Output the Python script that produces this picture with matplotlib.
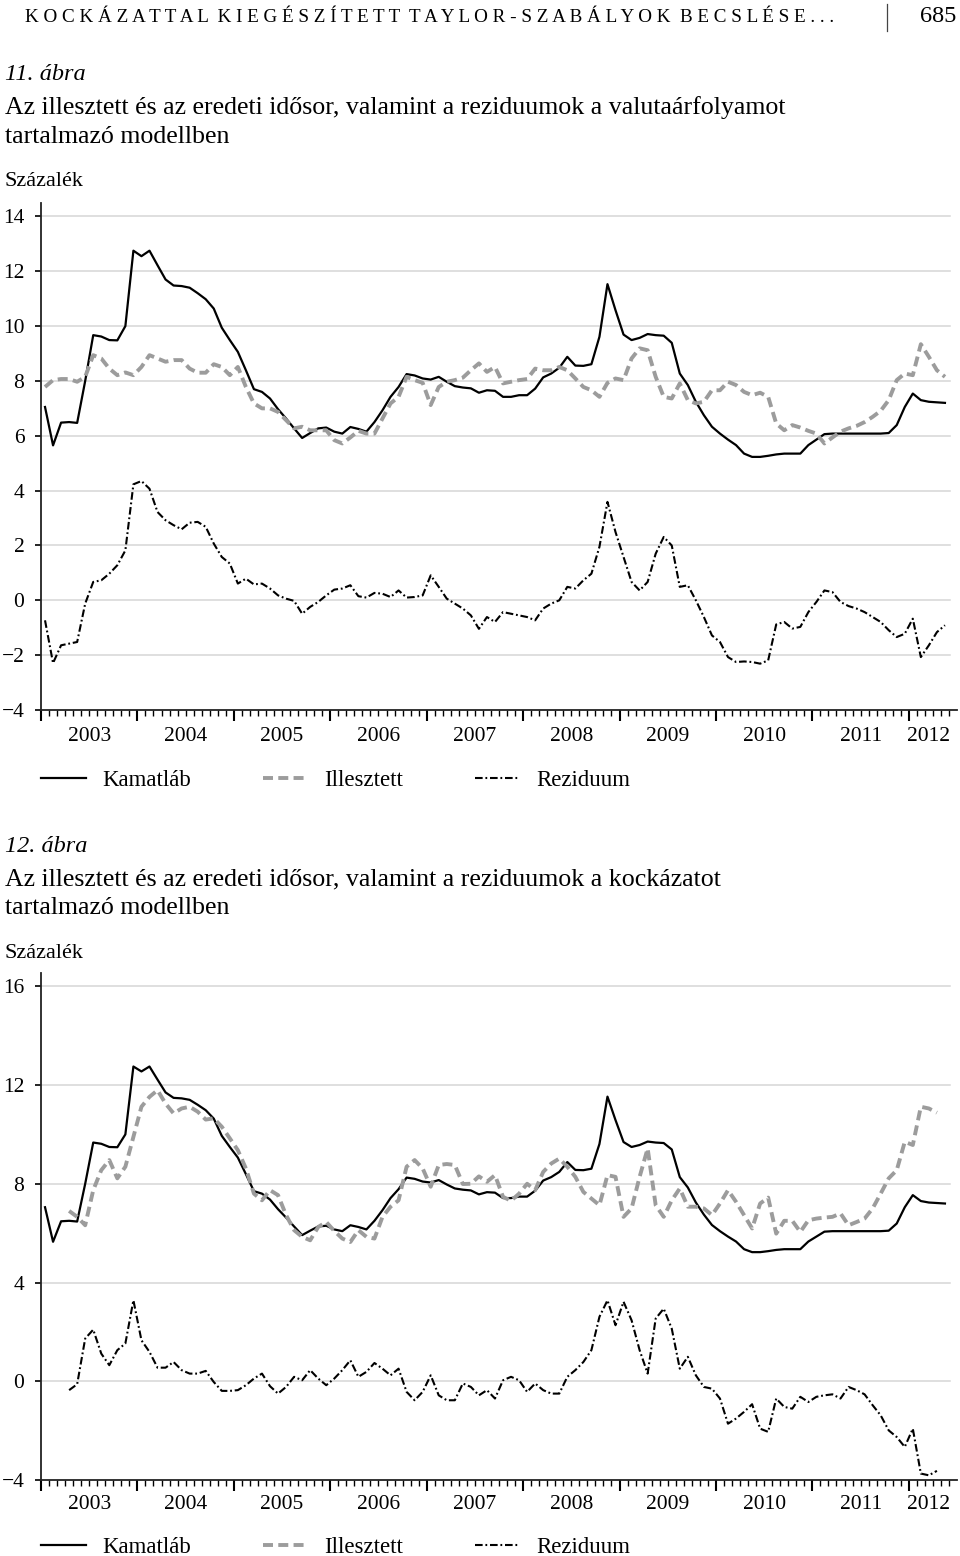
import matplotlib
matplotlib.use('Agg')
import matplotlib.pyplot as plt
import matplotlib.transforms as mtransforms
from matplotlib.lines import Line2D
import numpy as np

plt.rcParams['font.family'] = ['Liberation Serif', 'DejaVu Serif']
plt.rcParams['lines.scale_dashes'] = False

# havi adatok, 2003. január - 2012. május
evek = ['2003', '2004', '2005', '2006', '2007', '2008', '2009', '2010', '2011', '2012']

kamatlab = [7.05, 5.65, 6.48, 6.5, 6.47, 8.0, 9.67, 9.62, 9.49, 9.48, 10.0, 12.75,
            12.55, 12.75, 12.22, 11.7, 11.48, 11.46, 11.4, 11.2, 10.98, 10.64, 9.94, 9.49,
            9.06, 8.39, 7.7, 7.6, 7.36, 6.97, 6.63, 6.27, 5.92, 6.1, 6.27, 6.3,
            6.15, 6.08, 6.32, 6.25, 6.15, 6.5, 6.93, 7.42, 7.78, 8.25, 8.2, 8.09,
            8.05, 8.15, 7.97, 7.81, 7.76, 7.73, 7.57, 7.66, 7.64, 7.42, 7.42, 7.48,
            7.48, 7.72, 8.13, 8.27, 8.48, 8.88, 8.56, 8.55, 8.61, 9.61, 11.53, 10.58,
            9.69, 9.49, 9.57, 9.71, 9.67, 9.65, 9.39, 8.27, 7.85, 7.24, 6.75, 6.33,
            6.08, 5.86, 5.66, 5.35, 5.23, 5.23, 5.27, 5.32, 5.35, 5.35, 5.35, 5.66,
            5.86, 6.06, 6.08, 6.08, 6.08, 6.08, 6.08, 6.08, 6.08, 6.1, 6.39, 7.05,
            7.54, 7.3, 7.24, 7.22, 7.2]

# 11. ábra - valutaárfolyamot tartalmazó modell
illesztett_1 = [7.78, 8.03, 8.07, 8.07, 7.97, 8.15, 8.94, 8.82, 8.45, 8.21, 8.31, 8.21,
                8.51, 8.94, 8.82, 8.7, 8.76, 8.76, 8.45, 8.3, 8.3, 8.61, 8.51, 8.21,
                8.51, 7.78, 7.18, 7.0, 7.0, 6.87, 6.57, 6.27, 6.33, 6.2, 6.2, 6.2,
                5.84, 5.72, 5.94, 6.18, 6.08, 6.08, 6.63, 7.18, 7.42, 8.15, 8.03, 7.93,
                7.12, 7.78, 7.97, 8.03, 8.12, 8.39, 8.64, 8.33, 8.51, 7.91, 7.97, 8.03,
                8.07, 8.45, 8.39, 8.39, 8.51, 8.39, 8.09, 7.78, 7.66, 7.42, 7.93, 8.09,
                8.03, 8.82, 9.19, 9.12, 8.15, 7.42, 7.36, 7.91, 7.3, 7.18, 7.24, 7.66,
                7.66, 7.97, 7.85, 7.6, 7.48, 7.57, 7.42, 6.45, 6.2, 6.39, 6.3, 6.18,
                6.08, 5.72, 5.94, 6.15, 6.27, 6.36, 6.5, 6.69, 6.91, 7.3, 8.03, 8.27,
                8.21, 9.34, 8.88, 8.39, 8.15]
reziduum_1 = [-0.73, -2.29, -1.64, -1.58, -1.52, -0.12, 0.67, 0.73, 0.97, 1.28, 1.82, 4.23,
              4.35, 4.07, 3.22, 2.92, 2.74, 2.59, 2.83, 2.86, 2.68, 2.07, 1.58, 1.34,
              0.61, 0.79, 0.58, 0.61, 0.43, 0.18, 0.06, -0.02, -0.49, -0.24, -0.06, 0.18,
              0.39, 0.43, 0.55, 0.15, 0.1, 0.27, 0.24, 0.12, 0.36, 0.1, 0.12, 0.18,
              0.91, 0.49, 0.06, -0.12, -0.3, -0.55, -1.04, -0.61, -0.79, -0.43, -0.49, -0.55,
              -0.61, -0.73, -0.3, -0.12, 0.0, 0.49, 0.43, 0.73, 0.97, 1.95, 3.59, 2.49,
              1.58, 0.67, 0.36, 0.67, 1.7, 2.31, 2.0, 0.49, 0.55, 0.0, -0.61, -1.28,
              -1.52, -2.07, -2.25, -2.23, -2.25, -2.31, -2.19, -0.88, -0.79, -1.03, -0.97, -0.43,
              -0.06, 0.36, 0.3, -0.06, -0.21, -0.3, -0.43, -0.61, -0.79, -1.09, -1.34, -1.22,
              -0.67, -2.07, -1.64, -1.16, -0.91]

# 12. ábra - kockázatot tartalmazó modell (2003. április - 2012. április)
illesztett_2 = [6.9, 6.66, 6.32, 7.74, 8.55, 8.96, 8.22, 8.69, 9.9,
                11.12, 11.52, 11.79, 11.25, 10.85, 11.05, 11.12, 10.92, 10.6, 10.65, 10.31, 9.84,
                9.36, 8.62, 7.6, 7.33, 7.74, 7.54, 6.73, 6.12, 5.85, 5.71, 6.25, 6.45,
                6.09, 5.78, 5.64, 6.12, 5.85, 5.78, 6.66, 7.07, 7.33, 8.69, 8.96, 8.62,
                7.88, 8.76, 8.8, 8.76, 7.99, 8.0, 8.3, 8.08, 8.35, 7.47, 7.31, 7.6,
                8.0, 7.74, 8.48, 8.82, 9.02, 8.69, 8.28, 7.67, 7.4, 7.13, 8.35, 8.28,
                6.66, 7.0, 8.28, 9.43, 7.13, 6.66, 7.33, 7.81, 7.07, 7.07, 7.0, 6.73,
                7.2, 7.74, 7.27, 6.73, 6.19, 7.2, 7.44, 5.98, 6.5, 6.5, 6.05, 6.52,
                6.59, 6.63, 6.66, 6.8, 6.32, 6.45, 6.59, 7.0, 7.6, 8.22, 8.55, 9.7,
                9.57, 11.12, 11.05, 10.88]
reziduum_2 = [-0.36, -0.12, 1.73, 2.09, 1.12, 0.65, 1.26, 1.53, 3.28,
              1.66, 1.19, 0.55, 0.55, 0.78, 0.45, 0.31, 0.31, 0.42, -0.03, -0.39, -0.39,
              -0.36, -0.16, 0.11, 0.31, -0.2, -0.5, -0.23, 0.18, 0.04, 0.45, 0.11, -0.16,
              0.11, 0.45, 0.85, 0.18, 0.38, 0.74, 0.51, 0.24, 0.51, -0.43, -0.77, -0.43,
              0.24, -0.57, -0.77, -0.77, -0.09, -0.23, -0.57, -0.36, -0.7, 0.04, 0.18, 0.04,
              -0.43, -0.09, -0.36, -0.5, -0.5, 0.18, 0.45, 0.78, 1.26, 2.61, 3.28, 2.27,
              3.22, 2.47, 1.26, 0.31, 2.54, 2.94, 2.13, 0.51, 0.99, 0.24, -0.23, -0.3,
              -0.7, -1.72, -1.51, -1.24, -0.93, -1.92, -2.05, -0.7, -1.04, -1.11, -0.63, -0.84,
              -0.63, -0.57, -0.53, -0.7, -0.23, -0.36, -0.53, -0.97, -1.38, -1.99, -2.26, -2.66,
              -1.92, -3.74, -3.81, -3.63]

honap = np.arange(len(kamatlab)) + 0.5
honap_2 = honap[3:3 + len(illesztett_2)]
xmax = 114
W, H = 960, 1556


def minus(v):
    return str(v).replace('-', '\u2212')


def panel(ax, x_ill, ill, rez, yticks, ylim, ev_y, leg_y):
    for t in yticks[1:]:
        ax.axhline(t, xmin=0, xmax=0.992, color='#d6d6d6', lw=1.1, zorder=0)
    ax.plot(honap, kamatlab, color='black', lw=1.6, label='Kamatláb')
    ax.plot(x_ill, ill, color='#9c9c9c', lw=2.8, dashes=(7.2, 3.8), label='Illesztett')
    ax.plot(x_ill, rez, color='black', lw=1.5, dashes=(5.5, 2.0, 1.3, 2.0), label='Reziduum')
    ax.set_xlim(0, xmax)
    ax.set_ylim(*ylim)
    ax.set_yticks(yticks)
    ax.set_yticklabels([minus(t) for t in yticks])
    ax.set_xticks(np.arange(0, 109, 12))
    ax.set_xticks(np.arange(0, 114), minor=True)
    ax.set_xticklabels([])
    ax.tick_params(axis='y', direction='out', length=4, width=1.2, pad=8, labelsize=15.5)
    ax.tick_params(axis='x', which='major', direction='out', length=8, width=1.5)
    ax.tick_params(axis='x', which='minor', direction='out', length=4.5, width=1.0)
    for s in ['top', 'right']:
        ax.spines[s].set_visible(False)
    for s in ['left', 'bottom']:
        ax.spines[s].set_linewidth(1.3)
        ax.spines[s].set_color('#222222')
    trans = mtransforms.blended_transform_factory(ax.transData, ax.transAxes)
    for k, ev in enumerate(evek):
        kezd = 12 * k
        veg = min(kezd + 12, 113)
        ax.text((kezd + veg) / 2, ev_y, ev, transform=trans, ha='center', va='center', fontsize=15.5)
    ax.legend(loc='center left', bbox_to_anchor=(0, leg_y), ncol=3, frameon=False, fontsize=16.5,
              handlelength=1.95, handletextpad=0.72, columnspacing=3.15, borderaxespad=0, borderpad=0)


fig = plt.figure(figsize=(W / 100, H / 100), dpi=100)

# fejléc
fejlec = 'KOCKÁZATTAL KIEGÉSZÍTETT TAYLOR-SZABÁLYOK BECSLÉSE...'
fejlec_ritkitott = '  '.join(' '.join(szo) for szo in fejlec.split(' '))
fig.text(25 / W, 1 - 17 / H, fejlec_ritkitott, fontsize=13.8, ha='left', va='center')
fig.add_artist(Line2D([887 / W, 887 / W], [1 - 4 / H, 1 - 31 / H], color='#444444', lw=0.9))
fig.text(956 / W, 1 - 17 / H, '685', fontsize=17.5, ha='right', va='center')


def cimek(y0, cim1):
    fig.text(5 / W, 1 - y0 / H, cim1[0], fontsize=17.5, style='italic', ha='left', va='center')
    fig.text(5 / W, 1 - (y0 + 33) / H, cim1[1], fontsize=18.6, ha='left', va='center')
    fig.text(5 / W, 1 - (y0 + 62) / H, cim1[2], fontsize=18.6, ha='left', va='center')
    fig.text(5 / W, 1 - (y0 + 107) / H, 'Százalék', fontsize=16, ha='left', va='center')


cimek(75, ['11. ábra',
           'Az illesztett és az eredeti idősor, valamint a reziduumok a valutaárfolyamot',
           'tartalmazó modellben'])
cimek(846, ['12. ábra',
            'Az illesztett és az eredeti idősor, valamint a reziduumok a kockázatot',
            'tartalmazó modellben'])

ax1 = fig.add_axes([41 / W, 1 - 710 / H, 916 / W, 507.3 / H])
panel(ax1, honap, illesztett_1, reziduum_1, list(range(-4, 15, 2)), (-4, 14.5), -0.053, -0.138)

ax2 = fig.add_axes([41 / W, 1 - 1480 / H, 916 / W, 507.3 / H])
panel(ax2, honap_2, illesztett_2, reziduum_2, list(range(-4, 17, 4)), (-4, 16.55), -0.049, -0.133)

fig.savefig('out.png', dpi=100)
